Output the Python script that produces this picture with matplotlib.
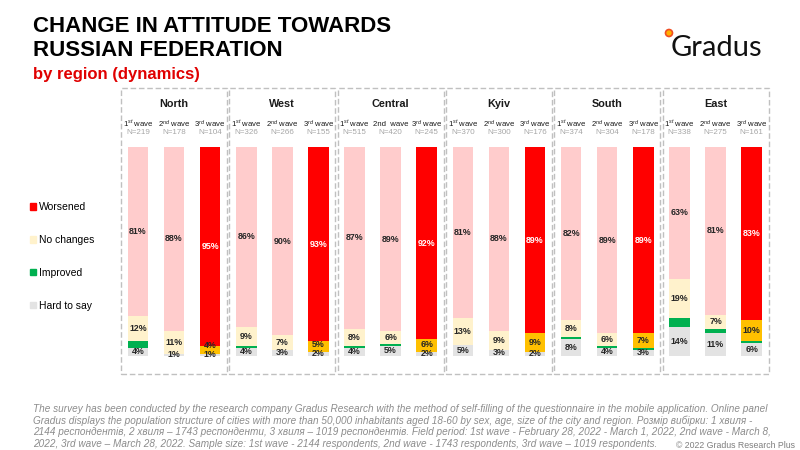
# -*- coding: utf-8 -*-
"""
Change in attitude towards Russian Federation, by region and wave
"""
import matplotlib
matplotlib.use('Agg')
import matplotlib.pyplot as plt
from matplotlib.patches import Rectangle, Circle, Patch
import numpy as np

plt.rcParams['font.family'] = ['Liberation Sans', 'DejaVu Sans']
plt.rcParams['mathtext.fontset'] = 'custom'
plt.rcParams['mathtext.rm'] = 'Liberation Sans'
plt.rcParams['mathtext.it'] = 'Liberation Sans:italic'
plt.rcParams['mathtext.bf'] = 'Liberation Sans:bold'

# regions and waves
regions = ['North', 'West', 'Central', 'Kyiv', 'South', 'East']
waves = ['1$^{st}$ wave', '2$^{nd}$ wave', '3$^{rd}$ wave']
waves_central = ['1$^{st}$ wave', '2nd  wave', '3$^{rd}$ wave']
n_sizes = [[219, 178, 104], [326, 266, 155], [515, 420, 245],
           [370, 300, 176], [374, 304, 178], [338, 275, 161]]

# values in %, per region: [1st, 2nd, 3rd wave]
hard = [[4, 1, 1], [4, 3, 2], [4, 5, 2], [5, 3, 2], [8, 4, 3], [14, 11, 6]]
improved = [[3, 0, 0], [1, 0, 0], [1, 1, 0], [0, 0, 0], [1, 1, 1], [4, 2, 1]]
no_change = [[12, 11, 4], [9, 7, 5], [8, 6, 6], [13, 9, 9], [8, 6, 7], [19, 7, 10]]
worsened = [[81, 88, 95], [86, 90, 93], [87, 89, 92], [81, 88, 89], [82, 89, 89], [63, 81, 83]]

# colours
c_hard = '#E3E3E3'
c_impr = '#00B050'
c_no = ['#FFF2CC', '#FFF2CC', '#FFC000']
c_worse = ['#FFCCCC', '#FFCCCC', '#FF0000']
txt = '#262626'

fig = plt.figure(figsize=(8, 4.5), dpi=100)

# bars axes: pixel x 100..790, y 147..356
ax = fig.add_axes([100/800, 94/450, 690/800, 209/450])
ax.set_xlim((100-174)/108.3, (790-174)/108.3)
ax.set_ylim(0, 100)
ax.axis('off')

width = 0.19
step = 0.333
gap = 4.6  # min distance between two labels, in % of bar height
for g in range(len(regions)):
    for w in range(3):
        x = g + (w-1)*step
        vals = [hard[g][w], improved[g][w], no_change[g][w], worsened[g][w]]
        tot = sum(vals)
        sh = [v/tot*100 for v in vals]
        cols = [c_hard, c_impr, c_no[w], c_worse[w]]
        bottom = 0
        last_y = -10
        for i in range(4):
            ax.bar(x, sh[i], width, bottom=bottom, color=cols[i], linewidth=0)
            if i != 1 and vals[i] > 0:
                tc = 'white' if (i == 3 and w == 2) else txt
                ly = max(bottom + sh[i]/2, last_y + gap)
                ax.text(x, ly, f'{vals[i]}%', ha='center', va='center',
                        fontsize=6.4, fontweight='bold', color=tc)
                last_y = ly
            bottom += sh[i]

# dashed boxes, region titles, wave labels
for g, reg in enumerate(regions):
    cx = 174 + 108.3*g
    fig.patches.append(Rectangle(((cx-53)/800, (450-374)/450), 106/800, 286/450,
                                 transform=fig.transFigure, fill=False,
                                 edgecolor='#C0C0C0', linewidth=1, linestyle=(0, (4, 2))))
    fig.text(cx/800, 1-104/450, reg, ha='center', va='center', fontsize=7.8, fontweight='bold', color='#1a1a1a')
    wl = waves_central if reg == 'Central' else waves
    for w in range(3):
        px = cx + (w-1)*36
        fig.text(px/800, 1-124/450, wl[w], ha='center', va='center', fontsize=5.6, color='#1a1a1a')
        fig.text(px/800, 1-133/450, f'N={n_sizes[g][w]}', ha='center', va='center', fontsize=5.8, color='#A6A6A6')

# titles
fig.text(33/800, 1-27/450, 'CHANGE IN ATTITUDE TOWARDS', fontsize=16, fontweight='bold', va='center')
fig.text(33/800, 1-51/450, 'RUSSIAN FEDERATION', fontsize=16, fontweight='bold', va='center')
fig.text(33/800, 1-74/450, 'by region (dynamics)', fontsize=12, fontweight='bold', va='center', color='#E00000')

# logo
fig.text(671/800, 1-48/450, 'Gradus', fontsize=21, family='Lato', va='center', color='#111111')
fig.patches.append(Circle((669/100, (450-33)/100), 0.035, transform=fig.dpi_scale_trans,
                          facecolor='#FFB000', edgecolor='#F04E23', linewidth=1.2))

# legend
handles = [Patch(color='#FF0000'), Patch(color='#FFF2CC'), Patch(color=c_impr), Patch(color=c_hard)]
labels = ['Worsened', 'No changes', 'Improved', 'Hard to say']
fig.legend(handles, labels, loc='upper left', bbox_to_anchor=(30/800, 1-202/450), frameon=False,
           fontsize=7.5, handlelength=0.6, handleheight=0.6, handletextpad=0.3, labelspacing=2.2,
           borderaxespad=0, borderpad=0)

# footnote
note = ['The survey has been conducted by the research company Gradus Research with the method of self-filling of the questionnaire in the mobile application. Online panel',
        'Gradus displays the population structure of cities with more than 50,000 inhabitants aged 18-60 by sex, age, size of the city and region. Розмір вибірки: 1 хвиля -',
        '2144 респондентів, 2 хвиля – 1743 респонденти, 3 хвиля – 1019 респондентів. Field period: 1st wave - February 28, 2022 - March 1, 2022, 2nd wave - March 8,',
        '2022, 3rd wave – March 28, 2022. Sample size: 1st wave - 2144 respondents, 2nd wave - 1743 respondents, 3rd wave – 1019 respondents.']
for i, line in enumerate(note):
    fig.text(33/800, 1-(409+11.7*i)/450, line, fontsize=7.2, style='italic', color='#8C8C8C', va='center')
fig.text(795/800, 1-446/450, '© 2022 Gradus Research Plus', fontsize=6.3, color='#7F7F7F', ha='right', va='center')

plt.savefig('out.png', dpi=100)
